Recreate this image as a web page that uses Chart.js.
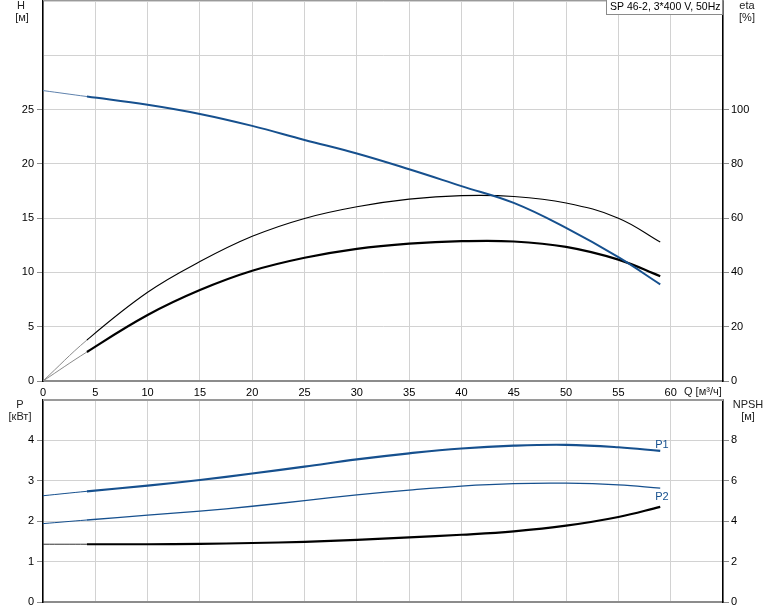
<!DOCTYPE html>
<html>
<head>
<meta charset="utf-8">
<style>
  body { margin: 0; background: #fff; }
  #wrap { position: relative; width: 774px; height: 611px; }
  canvas { position: absolute; left: 0; }
</style>
</head>
<body>
<div id="wrap">
  <canvas id="topChart" width="774" height="398" style="top:0"></canvas>
  <canvas id="botChart" width="774" height="213" style="top:398px"></canvas>
</div>
<script src="https://cdn.jsdelivr.net/npm/chart.js"></script>
<script>
  // Q, м³/ч
  const flow = [0, 4.2, 10, 15, 20, 25, 30, 35, 40, 45, 50, 55, 59]
  // H, м
  const head = [26.75, 26.2, 25.45, 24.6, 23.5, 22.2, 20.95, 19.5, 17.95, 16.4, 14.1, 11.4, 8.9]
  // eta, %
  const etaPump = [0, 15.1, 32.7, 44.0, 53.3, 59.9, 64.2, 67.0, 68.3, 68.0, 65.6, 60.0, 51.2]
  const etaTotal = [0, 10.7, 24.3, 33.5, 40.6, 45.4, 48.7, 50.6, 51.5, 51.4, 49.4, 44.7, 38.6]
  // P, кВт
  const powerP1 = [2.63, 2.74, 2.88, 3.02, 3.18, 3.35, 3.53, 3.68, 3.80, 3.87, 3.89, 3.83, 3.74]
  const powerP2 = [1.94, 2.03, 2.15, 2.25, 2.37, 2.51, 2.65, 2.77, 2.87, 2.93, 2.94, 2.90, 2.82]
  // NPSH, м
  const npsh = [2.86, 2.86, 2.86, 2.88, 2.92, 2.98, 3.08, 3.20, 3.33, 3.50, 3.78, 4.21, 4.71]

  const qTicks = [0, 5, 10, 15, 20, 25, 30, 35, 40, 45, 50, 55, 60]
  const hTicks = [0, 5, 10, 15, 20, 25]
  const etaTicks = [0, 20, 40, 60, 80, 100]
  const pTicks = [0, 1, 2, 3, 4]
  const npshTicks = [0, 2, 4, 6, 8]

  const BLUE = '#16508e'
  const GRID = '#d2d2d2'
  const TICK = '#8c8c8c'
  const FONT = { family: 'Liberation Sans, Arial, sans-serif', size: 11 }
  const startQ = 4.2

  Chart.defaults.font = FONT
  Chart.defaults.color = '#000'

  const pts = (ys) => flow.map((x, i) => ({ x, y: ys[i] }))

  // thin first segment, thick rest
  function curve(label, ys, axis, color, width, thinColor) {
    return {
      label, data: pts(ys), yAxisID: axis,
      borderColor: color, borderWidth: width,
      pointRadius: 0, tension: 0.4,
      segment: {
        borderWidth: c => c.p0.parsed.x < startQ - 0.01 ? 1 : width,
        borderColor: c => c.p0.parsed.x < startQ - 0.01 ? thinColor : color
      }
    }
  }

  function fixed(w, h) {
    return s => {
      if (w !== undefined) s.width = w
      if (h !== undefined) s.height = h
      s.paddingTop = 0; s.paddingBottom = 0; s.paddingRight = 0
    }
  }

  // tick mark only where a label is shown
  const tickCol = (arr) => c => (c.tick && arr.includes(c.tick.value)) ? TICK : 'rgba(0,0,0,0)'
  const keep = (arr) => v => arr.includes(v) ? String(v) : ''

  function texts(list) {
    return {
      id: 'texts',
      afterDraw(chart) {
        const ctx = chart.ctx
        ctx.save()
        ctx.font = '11px Liberation Sans, Arial, sans-serif'
        ctx.textBaseline = 'middle'
        list.forEach(t => {
          ctx.fillStyle = t.color || '#222'
          ctx.textAlign = t.align || 'center'
          ctx.fillText(t.text, t.x, t.y)
        })
        ctx.restore()
      }
    }
  }

  function topBorder(y, width) {
    return {
      id: 'topBorder',
      beforeDatasetsDraw(chart) {
        const { ctx, chartArea } = chart
        ctx.save()
        ctx.strokeStyle = '#9a9a9a'
        ctx.lineWidth = width
        ctx.beginPath()
        ctx.moveTo(chartArea.left, y)
        ctx.lineTo(chartArea.right, y)
        ctx.stroke()
        ctx.restore()
      }
    }
  }

  const titleBox = {
    id: 'titleBox',
    afterDraw(chart) {
      const ctx = chart.ctx
      ctx.save()
      ctx.fillStyle = '#fff'
      ctx.fillRect(607, 0, 115, 15)
      ctx.strokeStyle = '#8a8a8a'
      ctx.lineWidth = 1
      ctx.strokeRect(606.5, -1, 116, 15.5)
      ctx.fillStyle = '#000'
      ctx.font = '10.5px Liberation Sans, Arial, sans-serif'
      ctx.textBaseline = 'middle'
      ctx.textAlign = 'left'
      ctx.fillText('SP 46-2, 3*400 V, 50Hz', 610, 7.5)
      ctx.restore()
    }
  }

  new Chart(document.getElementById('topChart'), {
    type: 'line',
    data: {
      datasets: [
        curve('H', head, 'y', BLUE, 2, '#5f82ad'),
        curve('eta', etaPump, 'y2', '#000', 1.1, '#8a8a8a'),
        curve('eta', etaTotal, 'y2', '#000', 2.2, '#8a8a8a')
      ]
    },
    options: {
      responsive: false,
      animation: false,
      layout: { padding: { top: 1, left: 0, right: 0, bottom: 0 } },
      plugins: { legend: { display: false }, tooltip: { enabled: false } },
      scales: {
        x: {
          type: 'linear', min: 0, max: 65,
          ticks: { stepSize: 5, padding: 5, maxRotation: 0, autoSkip: false, callback: keep(qTicks) },
          grid: { color: GRID, drawTicks: false },
          border: { color: '#8c8c8c', width: 2 },
          afterFit: fixed(undefined, 17)
        },
        y: {
          position: 'left', min: 0, max: 35,
          ticks: { stepSize: 5, padding: 3, callback: keep(hTicks) },
          grid: { color: GRID, tickLength: 6, tickColor: tickCol(hTicks) },
          border: { color: '#000', width: 1.5 },
          afterFit: fixed(43)
        },
        y2: {
          position: 'right', min: 0, max: 140,
          ticks: { stepSize: 20, padding: 2, callback: keep(etaTicks) },
          grid: { drawOnChartArea: false, tickLength: 6, tickColor: tickCol(etaTicks) },
          border: { color: '#000', width: 1.5 },
          afterFit: fixed(51)
        }
      }
    },
    plugins: [
      topBorder(0.5, 1),
      titleBox,
      texts([
        { text: 'H', x: 21, y: 6 },
        { text: '[м]', x: 22, y: 18 },
        { text: 'eta', x: 747, y: 6 },
        { text: '[%]', x: 747, y: 18 },
        { text: 'Q [м³/ч]', x: 684, y: 392, align: 'left' }
      ])
    ]
  })

  new Chart(document.getElementById('botChart'), {
    type: 'line',
    data: {
      datasets: [
        curve('P1', powerP1, 'y', BLUE, 2.2, BLUE),
        curve('P2', powerP2, 'y', BLUE, 1.3, BLUE),
        curve('NPSH', npsh, 'y2', '#000', 2.2, '#333')
      ]
    },
    options: {
      responsive: false,
      animation: false,
      layout: { padding: { top: 2, left: 0, right: 0, bottom: 0 } },
      plugins: { legend: { display: false }, tooltip: { enabled: false } },
      scales: {
        x: {
          type: 'linear', min: 0, max: 65,
          ticks: { stepSize: 5, display: false },
          grid: { color: GRID, drawTicks: false },
          border: { color: '#8c8c8c', width: 2 },
          afterFit: fixed(undefined, 9)
        },
        y: {
          position: 'left', min: 0, max: 5,
          ticks: { stepSize: 1, padding: 3, callback: keep(pTicks) },
          grid: { color: GRID, tickLength: 6, tickColor: tickCol(pTicks) },
          border: { color: '#000', width: 1.5 },
          afterFit: fixed(43)
        },
        y2: {
          position: 'right', min: 0, max: 10,
          ticks: { stepSize: 2, padding: 2, callback: keep(npshTicks) },
          grid: { drawOnChartArea: false, tickLength: 6, tickColor: tickCol(npshTicks) },
          border: { color: '#000', width: 1.5 },
          afterFit: fixed(51)
        }
      }
    },
    plugins: [
      topBorder(2, 2),
      texts([
        { text: 'P', x: 20, y: 7 },
        { text: '[кВт]', x: 20, y: 19 },
        { text: 'NPSH', x: 748, y: 7 },
        { text: '[м]', x: 748, y: 19 },
        { text: 'P1', x: 662, y: 47, color: BLUE },
        { text: 'P2', x: 662, y: 99, color: BLUE }
      ])
    ]
  })
</script>
</body>
</html>
